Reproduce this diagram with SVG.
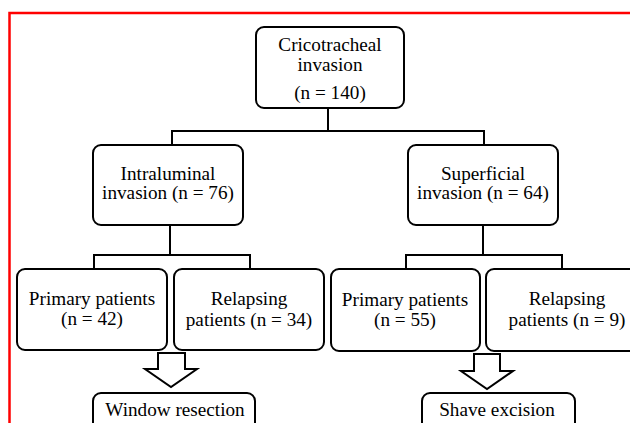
<svg xmlns="http://www.w3.org/2000/svg" width="630" height="423" viewBox="0 0 630 423">
<style>
.box{fill:#fff;stroke:#000;stroke-width:2}
.ln{fill:none;stroke:#000;stroke-width:2}
.arr{fill:#fff;stroke:#000;stroke-width:2;stroke-linejoin:miter}
.t{font-family:'Liberation Serif','Times New Roman','DejaVu Serif',serif;font-size:19.2px;fill:#000;text-anchor:middle}
</style>
<rect x="0" y="0" width="630" height="423" fill="#fff"/>
<rect x="9.5" y="13" width="700" height="500" fill="none" stroke="#f00" stroke-width="2.5"/>
<g id="connectors">
<path class="ln" d="M328,108V131M172,145V131H484V145"/>
<path class="ln" d="M170,225V255M94,268V255H250V268"/>
<path class="ln" d="M483,225V255M406,268V255H562V268"/>
<path class="arr" d="M158,353H185V369H197L171,387L145,369H158Z"/>
<path class="arr" d="M474,354H500V371H513L487,389L461,371H474Z"/>
</g>
<g id="n0"><rect class="box" x="256" y="27" width="148" height="81" rx="8"/><text class="t" x="330" y="51">Cricotracheal</text><text class="t" x="330" y="71">invasion</text><text class="t" x="330" y="99">(n = 140)</text></g>
<g id="n1"><rect class="box" x="93" y="145" width="150" height="80" rx="8"/><text class="t" x="168" y="180">Intraluminal</text><text class="t" x="168" y="199">invasion (n = 76)</text></g>
<g id="n2"><rect class="box" x="408" y="145" width="150" height="80" rx="8"/><text class="t" x="483" y="180">Superficial</text><text class="t" x="483" y="199">invasion (n = 64)</text></g>
<g id="n3"><rect class="box" x="17" y="269" width="150" height="81" rx="8"/><text class="t" x="92" y="305">Primary patients</text><text class="t" x="92" y="325">(n = 42)</text></g>
<g id="n4"><rect class="box" x="174" y="269" width="150" height="81" rx="8"/><text class="t" x="249" y="305">Relapsing</text><text class="t" x="249" y="326">patients (n = 34)</text></g>
<g id="n5"><rect class="box" x="331" y="269" width="149" height="82" rx="8"/><text class="t" x="405" y="306">Primary patients</text><text class="t" x="405" y="326">(n = 55)</text></g>
<g id="n6"><rect class="box" x="486" y="269" width="162" height="82" rx="8"/><text class="t" x="567" y="305">Relapsing</text><text class="t" x="567" y="326">patients (n = 9)</text></g>
<g id="n7"><rect class="box" x="93" y="393" width="162" height="60" rx="8"/><text class="t" x="175" y="416">Window resection</text></g>
<g id="n8"><rect class="box" x="422" y="393" width="153" height="60" rx="8"/><text class="t" x="497" y="416">Shave excision</text></g>
</svg>
